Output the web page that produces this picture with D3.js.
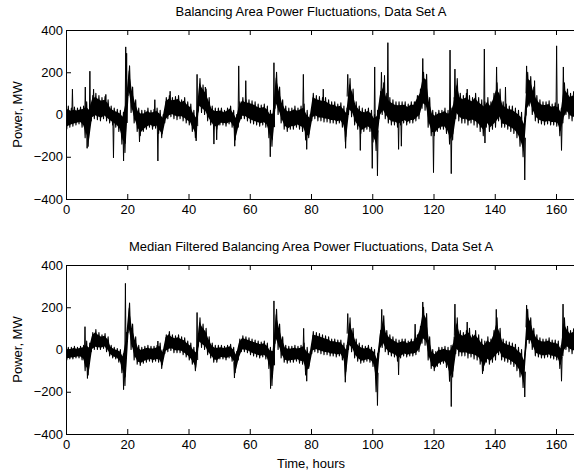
<!DOCTYPE html>
<html>
<head>
<meta charset="utf-8">
<script src="https://cdn.jsdelivr.net/npm/d3@7"></script>
<style>
  body { margin: 0; background: #fff; }
  svg { display: block; }
  text { font-family: "Liberation Sans", Arial, Helvetica, sans-serif; }
</style>
</head>
<body>
<div id="chart"></div>
<script>
// hourly envelope of the raw signal (MW), one value per hour starting at t = 0
var rawHi = [
  40, 30, 35, 30, 35, 40, 60, 50, 90, 100,
  90, 80, 85, 70, 40, 30, 25, 20, 10, 100,
  230, 130, 70, 30, 20, 20, 30, 20, 25, 30,
  20, 0, 80, 90, 80, 85, 90, 70, 80, 60,
  50, 20, 0, 170, 140, 120, 80, 40, 30, 30,
  30, 20, 30, 40, 20, 0, 60, 80, 70, 70,
  65, 60, 50, 45, 50, 40, 20, 30, 200, 130,
  70, 40, 30, 30, 40, 30, 40, 50, 20, 0,
  100, 90, 85, 80, 80, 70, 60, 60, 50, 55,
  40, 30, 170, 120, 60, 40, 30, 25, 30, 20,
  0, 20, 110, 150, 100, 80, 70, 60, 60, 60,
  60, 50, 60, 60, 90, 120, 200, 190, 80, 20,
  10, 20, 20, 30, 20, 30, 80, 170, 100, 90,
  100, 90, 80, 100, 80, 70, 60, 80, 60, 100,
  150, 120, 60, 50, 40, 40, 30, 20, 10, -20,
  200, 180, 130, 90, 70, 60, 60, 65, 50, 55,
  50, 30, 150, 120, 100, 110
];
var rawLo = [
  -70, -60, -55, -50, -45, -60, -110, -150, -30, -20,
  -25, -30, -20, -30, -40, -50, -60, -80, -140, -180,
  90, 10, -40, -80, -100, -80, -70, -60, -70, -65,
  -90, -110, -40, -20, -10, -20, -25, -20, -30, -40,
  -50, -80, -110, 20, 10, 0, -30, -50, -70, -70,
  -50, -50, -55, -45, -60, -120, -60, -20, -20, -30,
  -40, -45, -50, -55, -50, -60, -110, -150, 30, 0,
  -40, -70, -80, -70, -70, -60, -70, -80, -120, -110,
  -30, -20, -30, -30, -35, -35, -40, -40, -45, -40,
  -60, -130, 0, -10, -50, -70, -90, -80, -70, -80,
  -130, -170, -20, 0, -20, -40, -50, -50, -60, -50,
  -40, -50, -40, -40, -30, -20, 30, 20, -60, -100,
  -100, -80, -70, -70, -90, -140, -120, -20, -30, -40,
  -40, -50, -40, -50, -60, -80, -100, -60, -80, -70,
  -60, -30, -60, -60, -70, -80, -90, -110, -150, -200,
  0, 40, 0, -30, -40, -45, -50, -45, -50, -50,
  -55, -100, -40, 0, -20, -30
];
// thin excursions of the raw signal: [hour, MW]
var rawSpikes = [
  [2.1, 120], [6.3, 130], [6.9, -160], [7.8, 205], [9.0, 120], [13.0, 95],
  [15.5, -205], [18.8, -220], [19.5, 320], [19.8, 290], [24.0, -130],
  [29.0, 70], [30.0, -220], [34.0, 110], [42.5, -125], [42.8, 190],
  [45.5, 130], [48.3, -140], [49.2, -120], [55.1, -150], [56.4, 230],
  [58.7, 160], [66.7, -200], [67.9, 245], [77.5, 190], [78.6, -165],
  [84.0, 120], [91.3, -160], [92.0, 190], [96.1, -170], [100.0, -255],
  [100.8, 225], [101.7, -290], [103.0, 200], [104.0, 185], [105.1, 340],
  [108.6, -165], [109.5, -150], [116.5, 265], [120.0, -275], [125.4, 305],
  [125.8, -280], [127.0, 215], [131.0, 120], [136.6, 310], [136.8, -135],
  [140.6, 225], [143.5, 130], [149.8, -310], [150.4, 230], [153.0, 160],
  [160.2, 325], [161.8, -170], [162.4, 225]
];

// hourly envelope of the median filtered signal (MW)
var medHi = [
  10, 10, 15, 10, 15, 20, 40, 30, 80, 95,
  80, 70, 75, 60, 20, 10, 5, 0, -20, 80,
  220, 120, 60, 20, 10, 15, 20, 15, 15, 20,
  30, 0, 70, 85, 70, 65, 70, 60, 55, 40,
  30, 10, 0, 150, 120, 100, 60, 30, 20, 20,
  20, 15, 20, 25, 10, -10, 50, 65, 60, 55,
  50, 45, 40, 35, 40, 30, 10, 20, 190, 120,
  60, 20, 15, 15, 20, 15, 20, 30, 10, -10,
  85, 80, 75, 70, 65, 60, 50, 50, 45, 45,
  30, 20, 150, 100, 50, 30, 20, 15, 20, 10,
  0, -20, 90, 160, 90, 70, 60, 50, 45, 50,
  50, 40, 50, 50, 70, 110, 200, 170, 60, 0,
  -10, 10, 10, 15, 10, 20, 60, 150, 90, 80,
  90, 100, 70, 90, 70, 50, 40, 60, 50, 90,
  150, 100, 50, 40, 35, 30, 25, 10, 0, -30,
  190, 150, 100, 70, 55, 50, 50, 55, 45, 45,
  40, 20, 150, 110, 90, 100
];
var medLo = [
  -50, -45, -45, -40, -40, -50, -100, -120, -10, 0,
  0, 0, 5, -10, -30, -40, -45, -60, -110, -170,
  80, 0, -50, -70, -75, -65, -60, -55, -60, -55,
  -60, -90, -20, -10, -5, -15, -15, -15, -25, -35,
  -50, -70, -100, 20, 10, 0, -25, -40, -60, -60,
  -45, -45, -50, -40, -55, -110, -50, -10, -10, -15,
  -25, -30, -35, -40, -35, -45, -90, -170, 30, 0,
  -40, -60, -65, -60, -60, -55, -65, -70, -120, -90,
  -20, -10, -15, -20, -25, -25, -30, -30, -35, -30,
  -50, -130, 0, -10, -40, -55, -65, -60, -55, -60,
  -80, -200, -10, 10, -10, -25, -30, -35, -55, -40,
  -30, -35, -30, -30, -25, -10, 30, 20, -50, -90,
  -100, -80, -70, -65, -85, -150, -130, -20, -30, -30,
  -30, -40, -35, -45, -50, -70, -100, -60, -70, -60,
  -50, -25, -50, -55, -60, -70, -80, -100, -130, -180,
  20, 30, 0, -30, -35, -40, -40, -35, -40, -45,
  -50, -90, -30, 0, -10, -20
];
var medSpikes = [
  [6.2, 108], [7.0, -137], [18.8, -190], [19.4, 313], [30.0, 40],
  [42.8, 175], [55.0, -135], [66.8, -185], [67.9, 230], [77.6, 100],
  [78.6, -150], [91.2, -155], [92.0, 170], [101.7, -265], [103.1, 190],
  [108.6, -120], [114.0, 120], [116.5, 225], [125.8, -270], [127.0, 215],
  [131.0, 130], [136.0, -115], [140.5, 190], [149.8, -225], [150.4, 210],
  [161.8, -150], [162.3, 215]
];

var xTicks = [0, 20, 40, 60, 80, 100, 120, 140, 160];
var yTicks = [-400, -200, 0, 200, 400];

var W = 574, H = 472;
var left = 66, plotH = 169, tMax = 168;

var panels = [
  { title: 'Balancing Area Power Fluctuations, Data Set A', hi: rawHi, lo: rawLo, spikes: rawSpikes, top: 30 },
  { title: 'Median Filtered Balancing Area Power Fluctuations, Data Set A', hi: medHi, lo: medLo, spikes: medSpikes, top: 265, xlabel: 'Time, hours' }
];

var svg = d3.select('#chart').append('svg')
  .attr('width', W)
  .attr('height', H);

var x = d3.scaleLinear().domain([0, tMax]).range([left, left + tMax * 3.0625]);

panels.forEach(function(p, k) {
  var y = d3.scaleLinear().domain([-400, 400]).range([p.top + plotH, p.top]);

  svg.append('clipPath').attr('id', 'clip' + k)
    .append('rect')
      .attr('x', left).attr('y', p.top)
      .attr('width', x(tMax) - left).attr('height', plotH);

  var g = svg.append('g').attr('clip-path', 'url(#clip' + k + ')');

  // solid core of the band, hour centres padded to the axis edges
  var pts = p.hi.map(function(h, i) { return { t: i + 0.5, hi: h, lo: p.lo[i] }; });
  pts.unshift({ t: 0, hi: p.hi[0], lo: p.lo[0] });
  pts.push({ t: p.hi.length, hi: p.hi[p.hi.length - 1], lo: p.lo[p.lo.length - 1] });

  var core = d3.area()
    .x(function(d) { return x(d.t); })
    .y0(function(d) { return y(d.lo + 0.14 * (d.hi - d.lo)); })
    .y1(function(d) { return y(d.hi - 0.14 * (d.hi - d.lo)); });

  g.append('path')
    .datum(pts)
    .attr('d', core)
    .attr('fill', '#000');

  // the trace itself: low then high within each hour
  var trace = [];
  p.hi.forEach(function(h, i) {
    trace.push([i + 0.25, p.lo[i]]);
    trace.push([i + 0.75, h]);
  });

  var line = d3.line()
    .x(function(d) { return x(d[0]); })
    .y(function(d) { return y(d[1]); });

  g.append('path')
    .attr('d', line(trace))
    .attr('fill', 'none')
    .attr('stroke', '#000')
    .attr('stroke-width', 1.1)
    .attr('stroke-linejoin', 'round');

  p.spikes.forEach(function(s) {
    var i = Math.min(p.hi.length - 1, Math.floor(s[0]));
    var base = (p.hi[i] + p.lo[i]) / 2;
    g.append('path')
      .attr('d', line([[s[0] - 0.2, base], [s[0], s[1]], [s[0] + 0.2, base]]))
      .attr('fill', 'none')
      .attr('stroke', '#000')
      .attr('stroke-width', 1);
  });

  // axes, MATLAB style with inward ticks
  var bottom = svg.append('g')
    .attr('transform', 'translate(0,' + (p.top + plotH) + ')')
    .call(d3.axisBottom(x).tickValues(xTicks).tickSizeInner(-5).tickSizeOuter(0).tickPadding(6));
  svg.append('g')
    .attr('transform', 'translate(0,' + p.top + ')')
    .call(d3.axisTop(x).tickValues(xTicks).tickSizeInner(-5).tickSizeOuter(0).tickFormat(''));
  var leftAx = svg.append('g')
    .attr('transform', 'translate(' + left + ',0)')
    .call(d3.axisLeft(y).tickValues(yTicks).tickSizeInner(-5).tickSizeOuter(0).tickPadding(3));
  svg.append('g')
    .attr('transform', 'translate(' + x(tMax) + ',0)')
    .call(d3.axisRight(y).tickValues(yTicks).tickSizeInner(-5).tickSizeOuter(0).tickFormat(''));

  svg.selectAll('.domain').attr('stroke', '#000').attr('stroke-width', 1);
  svg.selectAll('.tick line').attr('stroke', '#000');
  bottom.selectAll('text').attr('font-size', 13).attr('fill', '#000')
    .style('font-family', '"Liberation Sans", Arial, sans-serif');
  leftAx.selectAll('text').attr('font-size', 13).attr('fill', '#000')
    .style('font-family', '"Liberation Sans", Arial, sans-serif');

  svg.append('text')
    .attr('x', 311)
    .attr('y', p.top - 14)
    .attr('text-anchor', 'middle')
    .attr('font-size', 13)
    .text(p.title);

  svg.append('text')
    .attr('transform', 'translate(22,' + (p.top + plotH / 2) + ') rotate(-90)')
    .attr('text-anchor', 'middle')
    .attr('font-size', 13)
    .text('Power, MW');

  if (p.xlabel) {
    svg.append('text')
      .attr('x', 311)
      .attr('y', p.top + plotH + 34)
      .attr('text-anchor', 'middle')
      .attr('font-size', 13)
      .text(p.xlabel);
  }
});
</script>
</body>
</html>
